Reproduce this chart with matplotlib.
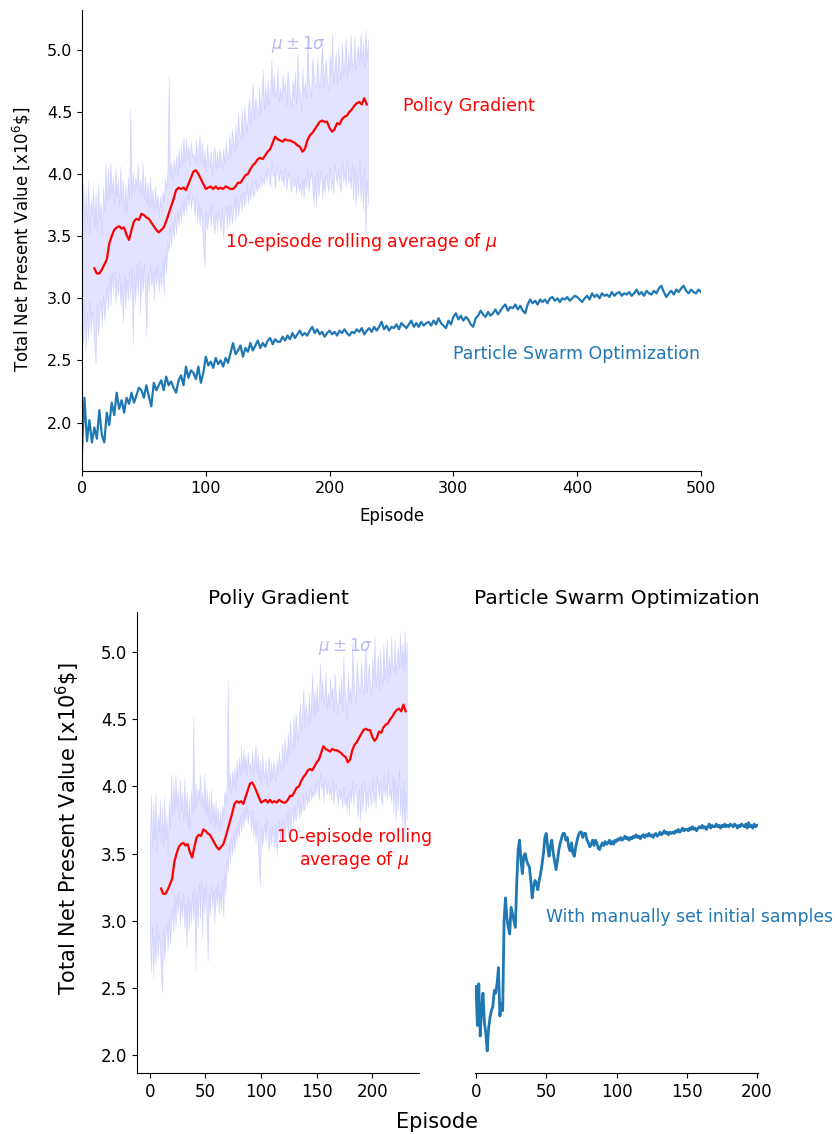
import numpy as np
import matplotlib
matplotlib.use("Agg")
import matplotlib.pyplot as plt

# Policy gradient: mu +/- 1 sigma envelope, one value per episode (0..231)
pg_upper = [
    3.62, 3.93, 3.55, 3.88, 3.60, 3.95, 3.52, 3.80, 3.66, 3.90,
    3.58, 3.85, 3.55, 3.93, 3.62, 3.78, 3.50, 3.90, 3.70, 4.09,
    3.78, 4.05, 3.80, 4.09, 3.85, 3.98, 3.76, 4.06, 3.82, 3.96,
    3.74, 4.06, 3.78, 3.95, 3.70, 3.92, 3.68, 3.98, 3.80, 4.52,
    3.82, 4.02, 3.85, 3.98, 3.90, 4.09, 3.86, 3.96, 3.84, 4.09,
    3.80, 3.98, 3.76, 3.94, 3.72, 3.98, 3.74, 3.88, 3.70, 3.90,
    3.72, 3.84, 3.68, 3.82, 3.70, 3.86, 3.78, 3.96, 3.88, 4.02,
    4.79, 3.98, 4.10, 3.95, 4.12, 4.00, 4.15, 3.98, 4.20, 4.05,
    4.22, 4.08, 4.30, 4.10, 4.28, 4.12, 4.24, 4.08, 4.26, 4.14,
    4.17, 4.10, 4.28, 4.08, 4.22, 4.31, 4.10, 4.25, 4.06, 4.20,
    4.02, 4.24, 4.12, 4.06, 4.19, 4.00, 4.16, 4.22, 4.04, 4.18,
    4.06, 4.20, 4.14, 4.04, 4.21, 4.08, 4.26, 4.18, 4.12, 4.33,
    4.15, 4.36, 4.28, 4.18, 4.40, 4.22, 4.49, 4.34, 4.28, 4.52,
    4.30, 4.55, 4.44, 4.34, 4.50, 4.62, 4.40, 4.58, 4.73, 4.44,
    4.62, 4.54, 4.46, 4.70, 4.48, 4.66, 4.84, 4.52, 4.72, 4.54,
    4.76, 4.56, 4.70, 4.92, 4.64, 4.80, 4.62, 4.68, 4.85, 4.58,
    4.70, 4.60, 4.81, 4.66, 4.74, 4.55, 4.84, 4.72, 4.62, 4.54,
    4.76, 4.62, 4.82, 4.56, 4.97, 4.70, 4.66, 4.50, 4.86, 4.64,
    4.74, 4.62, 5.08, 4.78, 4.70, 4.62, 4.94, 4.80, 4.72, 4.70,
    4.94, 4.76, 4.68, 4.90, 5.05, 4.70, 4.84, 4.92, 4.74, 4.68,
    4.96, 4.80, 5.13, 4.74, 4.86, 4.98, 4.72, 5.02, 4.84, 4.76,
    5.06, 4.80, 4.92, 5.10, 4.78, 4.98, 4.84, 5.12, 4.90, 4.86,
    5.10, 4.84, 4.96, 5.04, 4.88, 5.14, 4.90, 5.06, 4.86, 5.16,
    4.92, 5.08,
]
pg_lower = [
    2.85, 2.62, 2.95, 2.58, 2.88, 2.67, 2.98, 2.72, 2.90, 2.80,
    2.60, 2.47, 2.95, 2.70, 2.88, 2.98, 2.78, 3.02, 2.82, 2.94,
    3.10, 2.91, 3.18, 2.94, 3.20, 3.05, 3.22, 2.96, 3.15, 3.02,
    3.20, 2.95, 3.12, 2.80, 3.18, 2.92, 3.15, 2.98, 3.22, 3.00,
    3.25, 2.63, 3.20, 2.95, 3.28, 3.02, 3.30, 2.88, 3.25, 3.05,
    3.28, 3.00, 2.70, 3.20, 3.05, 3.26, 3.10, 3.22, 2.98, 3.25,
    3.10, 3.28, 3.05, 3.22, 3.08, 3.30, 3.02, 3.35, 3.20, 3.45,
    3.37, 3.58, 3.42, 3.62, 3.48, 3.66, 3.52, 3.70, 3.58, 3.72,
    3.62, 3.78, 3.66, 3.80, 3.70, 3.84, 3.74, 3.86, 3.72, 3.82,
    3.79, 3.66, 3.82, 3.62, 3.76, 3.58, 3.74, 3.55, 3.40, 3.26,
    3.70, 3.55, 3.64, 3.72, 3.58, 3.76, 3.60, 3.52, 3.69, 3.56,
    3.70, 3.62, 3.54, 3.72, 3.48, 3.66, 3.75, 3.56, 3.74, 3.58,
    3.76, 3.60, 3.70, 3.80, 3.62, 3.82, 3.66, 3.74, 3.84, 3.70,
    3.86, 3.74, 3.80, 3.92, 3.76, 3.88, 3.79, 3.94, 3.82, 3.84,
    3.96, 3.86, 3.92, 3.88, 4.00, 3.90, 3.96, 3.92, 4.02, 3.94,
    4.05, 3.96, 3.90, 4.10, 3.98, 4.02, 3.88, 4.06, 4.00, 3.94,
    4.04, 3.94, 3.98, 3.90, 4.06, 3.87, 3.96, 4.02, 3.92, 3.86,
    3.98, 3.90, 3.96, 3.84, 4.00, 3.86, 3.92, 3.82, 3.96, 3.80,
    3.98, 3.88, 4.04, 3.86, 3.96, 4.02, 3.90, 3.76, 3.98, 3.74,
    4.02, 3.82, 3.94, 4.04, 3.80, 3.96, 3.84, 4.00, 3.92, 3.86,
    4.06, 3.88, 3.96, 3.84, 4.08, 3.98, 3.92, 4.04, 3.90, 3.86,
    4.10, 3.93, 4.02, 3.90, 4.12, 3.93, 3.98, 3.88, 4.08, 3.80,
    4.06, 3.74, 4.00, 3.82, 4.12, 3.78, 3.98, 3.70, 4.04, 3.52,
    3.95, 3.75,
]

# 10-episode rolling average of mu, every second episode from 10 to 230
pg_rolling = [
    3.24, 3.20, 3.20, 3.23, 3.27, 3.31, 3.44, 3.50, 3.55, 3.57,
    3.58, 3.56, 3.57, 3.51, 3.47, 3.55, 3.62, 3.64, 3.63, 3.68,
    3.67, 3.65, 3.64, 3.61, 3.58, 3.55, 3.53, 3.55, 3.57, 3.62,
    3.68, 3.74, 3.80, 3.87, 3.89, 3.88, 3.89, 3.87, 3.92, 3.97,
    4.02, 4.03, 4.00, 3.96, 3.92, 3.88, 3.89, 3.90, 3.88, 3.90,
    3.88, 3.89, 3.88, 3.90, 3.89, 3.88, 3.88, 3.90, 3.93, 3.93,
    3.96, 3.99, 4.00, 4.04, 4.07, 4.09, 4.12, 4.13, 4.12, 4.15,
    4.18, 4.20, 4.25, 4.30, 4.28, 4.27, 4.26, 4.28, 4.27, 4.27,
    4.26, 4.25, 4.23, 4.22, 4.18, 4.20, 4.27, 4.31, 4.33, 4.36,
    4.39, 4.42, 4.43, 4.42, 4.42, 4.37, 4.34, 4.36, 4.41, 4.40,
    4.44, 4.46, 4.47, 4.50, 4.52, 4.55, 4.57, 4.58, 4.56, 4.61,
    4.56,
]

# Particle swarm optimization, every second episode from 0 to 500
pso_npv = [
    1.78, 2.20, 1.85, 2.02, 1.84, 1.96, 1.87, 2.10, 1.90, 1.84,
    2.08, 1.98, 2.16, 2.06, 2.24, 2.11, 2.18, 2.08, 2.20, 2.15,
    2.24, 2.16, 2.22, 2.28, 2.26, 2.20, 2.30, 2.21, 2.13, 2.32,
    2.26, 2.30, 2.34, 2.26, 2.37, 2.30, 2.33, 2.28, 2.24, 2.34,
    2.38, 2.30, 2.45, 2.36, 2.42, 2.40, 2.35, 2.45, 2.32, 2.40,
    2.53, 2.46, 2.49, 2.44, 2.52, 2.47, 2.50, 2.45, 2.52, 2.48,
    2.56, 2.64, 2.55, 2.58, 2.62, 2.53, 2.60, 2.57, 2.64, 2.58,
    2.62, 2.66, 2.60, 2.64, 2.61, 2.66, 2.68, 2.63, 2.67, 2.65,
    2.65, 2.69, 2.66, 2.70, 2.67, 2.72, 2.68, 2.71, 2.74, 2.70,
    2.72, 2.70, 2.74, 2.77, 2.72, 2.75, 2.71, 2.73, 2.69, 2.72,
    2.74, 2.71, 2.73, 2.70, 2.74, 2.72, 2.75, 2.72, 2.70, 2.73,
    2.72, 2.75, 2.73, 2.76, 2.71, 2.74, 2.76, 2.73, 2.77, 2.74,
    2.77, 2.81, 2.75, 2.78, 2.74, 2.77, 2.76, 2.79, 2.75, 2.80,
    2.78, 2.76, 2.79, 2.82, 2.77, 2.80, 2.77, 2.81, 2.78, 2.80,
    2.81, 2.78, 2.82, 2.79, 2.84, 2.80, 2.78, 2.76, 2.82, 2.79,
    2.85, 2.88, 2.83, 2.86, 2.82, 2.85, 2.83, 2.79, 2.77, 2.84,
    2.86, 2.90, 2.87, 2.85, 2.89, 2.86, 2.88, 2.91, 2.87, 2.90,
    2.93, 2.95, 2.90, 2.93, 2.92, 2.95, 2.91, 2.94, 2.90, 2.88,
    2.95, 2.99, 2.96, 2.98, 2.95, 2.99, 2.97, 2.99, 2.96, 3.00,
    3.01, 2.98, 3.00, 2.97, 3.00, 2.99, 3.01, 2.98, 3.00, 3.02,
    3.01, 2.99, 2.97, 3.00, 3.02, 2.99, 3.04, 3.01, 3.03, 3.00,
    3.04, 3.02, 3.03, 3.01, 3.05, 3.02, 3.04, 3.05, 3.02, 3.04,
    3.03, 3.05, 3.02, 3.04, 3.07, 3.03, 3.05, 3.02, 3.06, 3.04,
    3.03, 3.06, 3.04, 3.08, 3.10, 3.05, 3.01, 3.04, 3.06, 3.03,
    3.07, 3.05, 3.08, 3.10, 3.06, 3.04, 3.07, 3.05, 3.04, 3.07,
    3.05,
]

# PSO with manually set initial samples, episodes 0..200
pso_manual = [
    2.51, 2.22, 2.53, 2.14, 2.35, 2.46, 2.24, 2.16, 2.03, 2.20,
    2.28, 2.33, 2.36, 2.48, 2.46, 2.53, 2.65, 2.29, 2.38, 2.33,
    3.00, 3.17, 3.02, 2.95, 2.90, 3.10, 3.05, 3.00, 2.95, 3.28,
    3.53, 3.60, 3.45, 3.35, 3.48, 3.50, 3.45, 3.42, 3.40, 3.30,
    3.17, 3.25, 3.30, 3.28, 3.23, 3.30, 3.35, 3.42, 3.50, 3.62,
    3.65, 3.55, 3.48, 3.56, 3.60, 3.50, 3.44, 3.38, 3.45, 3.53,
    3.58, 3.62, 3.65, 3.65, 3.60, 3.62, 3.55, 3.52, 3.58, 3.50,
    3.48, 3.55, 3.60, 3.64, 3.66, 3.66, 3.62, 3.65, 3.65, 3.60,
    3.58, 3.55, 3.57, 3.60, 3.56, 3.60, 3.58, 3.54, 3.53, 3.56,
    3.58, 3.56, 3.59, 3.57, 3.58, 3.60, 3.57, 3.59, 3.57, 3.60,
    3.59, 3.61, 3.60, 3.62, 3.60, 3.61, 3.63, 3.61, 3.62, 3.60,
    3.62, 3.61, 3.63, 3.62, 3.64, 3.62, 3.63, 3.61, 3.63, 3.64,
    3.62, 3.64, 3.63, 3.65, 3.63, 3.64, 3.62, 3.64, 3.65, 3.63,
    3.64, 3.66, 3.64, 3.65, 3.67, 3.65, 3.66, 3.64, 3.66, 3.65,
    3.66, 3.65, 3.67, 3.66, 3.68, 3.66, 3.67, 3.69, 3.67, 3.68,
    3.68, 3.67, 3.69, 3.68, 3.70, 3.68, 3.69, 3.67, 3.69, 3.70,
    3.69, 3.71, 3.69, 3.70, 3.68, 3.70, 3.72, 3.69, 3.71, 3.70,
    3.70, 3.72, 3.70, 3.71, 3.69, 3.71, 3.70, 3.72, 3.70, 3.71,
    3.70, 3.72, 3.71, 3.70, 3.72, 3.71, 3.69, 3.71, 3.70, 3.72,
    3.71, 3.70, 3.72, 3.69, 3.73, 3.70, 3.71, 3.69, 3.72, 3.70,
    3.71,
]

pg_ep = np.arange(len(pg_upper))
roll_ep = np.arange(10, 10 + 2 * len(pg_rolling), 2)
pso_ep = np.arange(0, 2 * len(pso_npv), 2)
manual_ep = np.arange(len(pso_manual))

ylabel = r"Total Net Present Value [x10$^6$\$]"
band_col = "b"
text_band = (0.55, 0.55, 0.9, 0.6)
pso_col = "#1f77b4"

fig = plt.figure(figsize=(8.35, 11.34), dpi=100)
W, H = 835.0, 1134.0


def add_px_axes(left, top, right, bottom, **kw):
    return fig.add_axes([left / W, 1 - bottom / H, (right - left) / W, (bottom - top) / H], **kw)


def draw_pg(ax):
    ax.fill_between(pg_ep, pg_lower, pg_upper, color=band_col, alpha=0.11, lw=0.6)
    ax.plot(roll_ep, pg_rolling, color="r", lw=1.6)


# ---- top: both methods on one axes
ax = add_px_axes(82, 10, 701, 471)
draw_pg(ax)
ax.plot(pso_ep, pso_npv, color=pso_col, lw=1.6)
ax.set_xlim(0, 500)
ax.set_ylim(1.61, 5.32)
ax.set_yticks([2.0, 2.5, 3.0, 3.5, 4.0, 4.5, 5.0])
ax.tick_params(labelsize=11.5)
for s in ["top", "right"]:
    ax.spines[s].set_visible(False)
ax.set_xlabel("Episode", fontsize=12, labelpad=8)
fig.text(22 / W, 1 - 239 / H, ylabel, rotation=90, ha="center", va="center", fontsize=12)
ax.text(174.5, 5.04, r"$\mu \pm 1\sigma$", color=text_band, ha="center", va="center", fontsize=12)
ax.text(259, 4.55, "Policy Gradient", color="r", ha="left", va="center", fontsize=12.5)
ax.text(115.5, 3.45, r"10-episode rolling average of $\mu$", color="r", ha="left", va="center", fontsize=12.5)
ax.text(499, 2.55, "Particle Swarm Optimization", color=pso_col, ha="right", va="center", fontsize=12.5)

# ---- bottom: side by side
ax1 = add_px_axes(137, 612, 419, 1073)
ax2 = add_px_axes(475, 612, 758, 1073, sharey=ax1)

draw_pg(ax1)
ax1.set_xlim(-11.6, 242)
ax1.set_ylim(1.865, 5.30)
ax1.set_yticks([2.0, 2.5, 3.0, 3.5, 4.0, 4.5, 5.0])
ax1.set_xticks([0, 50, 100, 150, 200])
ax1.tick_params(labelsize=12)
for s in ["top", "right"]:
    ax1.spines[s].set_visible(False)
ax1.set_title("Poliy Gradient", fontsize=14.5)
ax1.text(175.8, 5.04, r"$\mu \pm 1\sigma$", color=text_band, ha="center", va="center", fontsize=12)
ax1.text(184, 3.53, "10-episode rolling\naverage of $\\mu$", color="r", ha="center", va="center",
         multialignment="center", fontsize=12.4)

ax2.plot(manual_ep, pso_manual, color=pso_col, lw=2)
ax2.set_xlim(-0.7, 200.7)
ax2.set_xticks([0, 50, 100, 150, 200])
ax2.tick_params(labelsize=12)
ax2.tick_params(axis="y", left=False, labelleft=False)
for s in ["top", "right", "left"]:
    ax2.spines[s].set_visible(False)
ax2.set_title("Particle Swarm Optimization", fontsize=14.5)
ax2.text(49.8, 3.03, "With manually set initial samples", color=pso_col, ha="left", va="center",
         fontsize=12.4)

fig.text(437 / W, 1 - 1122 / H, "Episode", ha="center", va="center", fontsize=15)
fig.text(68 / W, 1 - 829 / H, ylabel, rotation=90, ha="center", va="center", fontsize=15)

fig.savefig("out.png", dpi=100)
